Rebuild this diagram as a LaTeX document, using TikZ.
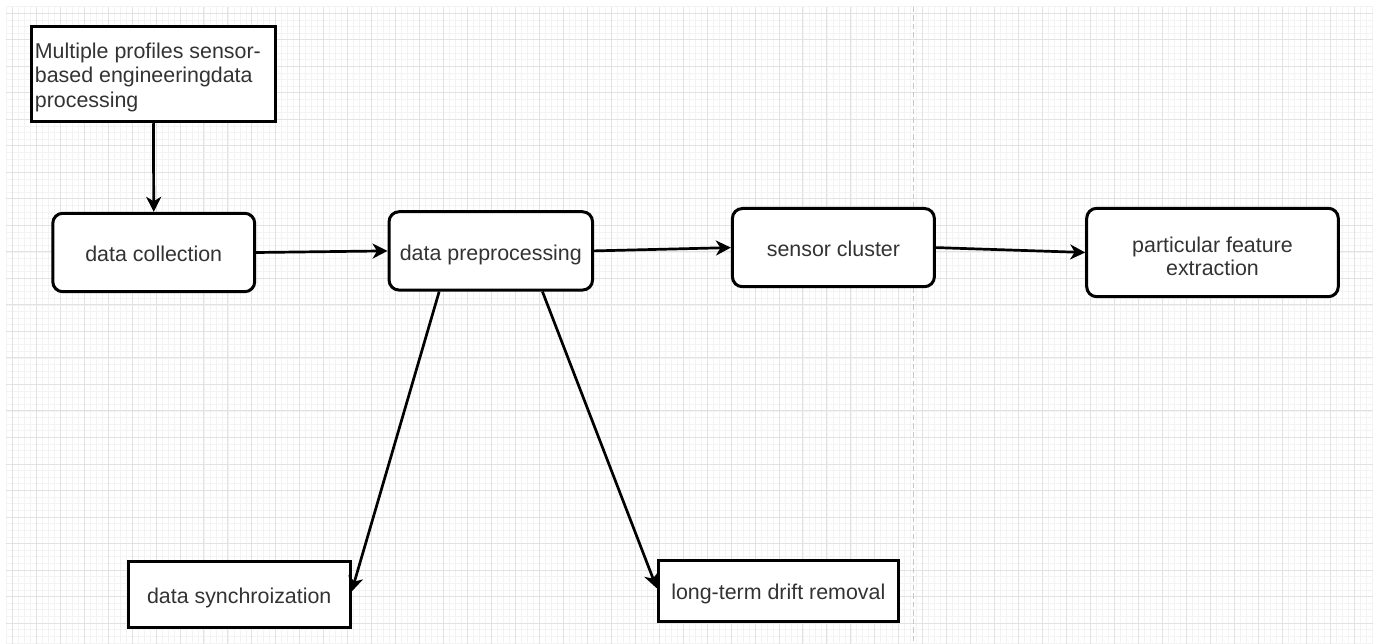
\documentclass[tikz,border=0pt]{standalone}
\usepackage{fontspec}
\setmainfont{Liberation Sans}
\usetikzlibrary{arrows.meta,calc}
\definecolor{gridmajor}{HTML}{E2E2E2}
\definecolor{gridminor}{HTML}{F3F3F3}
\definecolor{txt}{HTML}{333333}
\definecolor{dashc}{HTML}{C8C8C8}
\begin{document}
\begin{tikzpicture}[x=1pt,y=-1pt,
  minorline/.style={draw=gridminor, line width=0.8pt},
  majorline/.style={draw=gridmajor, line width=1pt},
  box/.style={draw=black, line width=3pt, fill=white, inner sep=0pt, text=txt,
    font=\fontsize{21.4}{24}\selectfont, text height=18.6pt, text depth=0pt},
  rbox/.style={box, rounded corners=10pt},
  conn/.style={draw=black, line width=2.7pt, -{Stealth[length=15pt,width=15pt,inset=4.5pt]}},
]
\useasboundingbox (0,0) rectangle (1373,644);
\fill[white] (0,0) rectangle (1373,644);
% grid
\foreach \i in {0,...,228} \draw[minorline] ({6.3+5.99*\i},6.7) -- ({6.3+5.99*\i},644);
\foreach \i in {0,...,96} \draw[minorline] (6.3,{6.7+6.6275*\i}) -- (1373,{6.7+6.6275*\i});
\foreach \i in {0,...,56} \draw[majorline] ({12.29+23.96*\i},6.7) -- ({12.29+23.96*\i},644);
\foreach \i in {0,...,23} \draw[majorline] (6.3,{13.33+26.51*\i}) -- (1373,{13.33+26.51*\i});
% page break line
\draw[dashc, line width=1.4pt, dash pattern=on 5.5pt off 3pt] (913.4,6.7) -- (913.4,644);

% nodes
\node[box, minimum width=243.3pt, minimum height=95.7pt, text height=17pt, text depth=48.2pt,
  font=\fontsize{21.4}{24.5}\selectfont] (top) at (153.4,73.9)
  {\begin{tabular}[t]{@{}p{237pt}@{}}Multiple profiles sensor-\\based engineeringdata\\processing\end{tabular}};
\node[rbox, minimum width=201.9pt, minimum height=78.4pt] (coll) at (153.75,252.5) {data collection};
\node[rbox, minimum width=203.5pt, minimum height=78.3pt] (pre) at (490.8,250.9) {data preprocessing};
\node[rbox, minimum width=202pt, minimum height=78.2pt] (sens) at (833.4,247.6) {sensor cluster};
\node[rbox, minimum width=251.6pt, minimum height=88.4pt, text height=20pt, text depth=20pt,
  font=\fontsize{21.4}{23.5}\selectfont] (feat) at (1212.5,252.5)
  {\begin{tabular}[t]{@{}c@{}}particular feature\\extraction\end{tabular}};
\node[box, minimum width=221.7pt, minimum height=65.6pt] (sync) at (239.2,594.5) {data synchroization};
\node[box, minimum width=240pt, minimum height=61pt] (ltd) at (778.3,590.5) {long-term drift removal};

% connectors
\coordinate (p1) at ($(pre.south west)!0.25!(pre.south east)$);
\coordinate (p2) at ($(pre.south west)!0.75!(pre.south east)$);
\coordinate (s1) at ($(sync.east)+(0,-2.8)$);
\coordinate (l1) at ($(ltd.west)+(0,-2.2)$);
\draw[conn] (top.south) -- (coll.north);
\draw[conn] (coll.east) -- (pre.west);
\draw[conn] (pre.east) -- (sens.west);
\draw[conn] (sens.east) -- (feat.west);
\draw[conn] (p1) -- (s1);
\draw[conn] (p2) -- (l1);
\end{tikzpicture}
\end{document}
